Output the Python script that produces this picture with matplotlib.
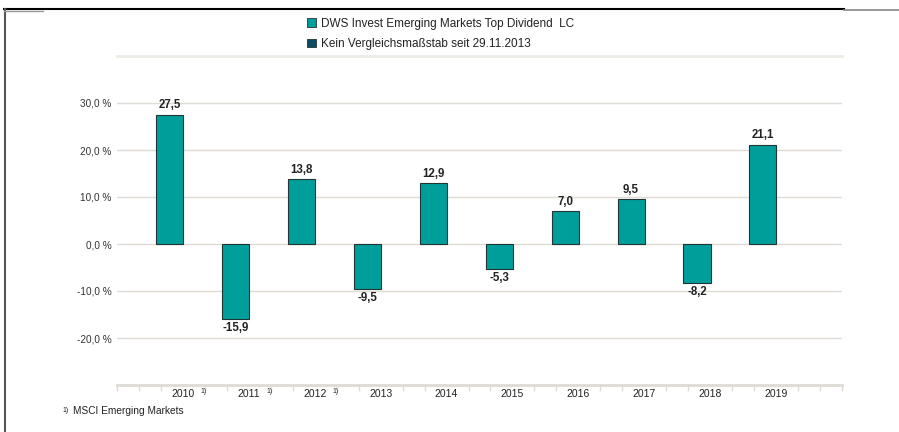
import matplotlib
matplotlib.use("Agg")
import matplotlib.pyplot as plt
from matplotlib.patches import Patch
from matplotlib.lines import Line2D
import numpy as np

plt.rcParams['font.family'] = ['Liberation Sans', 'DejaVu Sans']

years = ["2010", "2011", "2012", "2013", "2014", "2015", "2016", "2017", "2018", "2019"]
footnotes = ["1)", "1)", "1)", "", "", "", "", "", "", ""]
fund_values = [27.5, -15.9, 13.8, -9.5, 12.9, -5.3, 7.0, 9.5, -8.2, 21.1]
y_ticks = [-20, -10, 0, 10, 20, 30]
legend_labels = ["DWS Invest Emerging Markets Top Dividend  LC",
                 "Kein Vergleichsmaßstab seit 29.11.2013"]
footnote_text = "MSCI Emerging Markets"

fund_color = "#009e9b"
bench_color = "#0d4a66"
grid_color = "#dedbd4"
text_color = "#222222"

fig = plt.figure(figsize=(8.99, 4.32), dpi=100)
ax = fig.add_axes([117/899, 1 - 385/432, (842 - 117)/899, (385 - 56)/432])

x = np.arange(len(years))
bar_w = 0.41
ax.bar(x - 0.2, fund_values, width=bar_w, color=fund_color,
       edgecolor="#1f3433", linewidth=0.8, zorder=3)

for xi, v in zip(x, fund_values):
    lab = f"{v:.1f}".replace(".", ",")
    if v >= 0:
        ax.annotate(lab, (xi - 0.2, v), xytext=(0, 2.5), textcoords="offset points",
                    ha="center", va="bottom", fontsize=8.3, fontweight="bold", color=text_color)
    else:
        ax.annotate(lab, (xi - 0.2, v), xytext=(0, -2.5), textcoords="offset points",
                    ha="center", va="top", fontsize=8.3, fontweight="bold", color=text_color)

ax.set_xlim(-1, 10)
ax.set_ylim(-30, 40)

# gridlines
for t in y_ticks:
    ax.axhline(t, color=grid_color, linewidth=1.0, zorder=1)

ax.set_yticks(y_ticks)
ax.set_yticklabels([f"{t:.1f}".replace(".", ",") + " %" for t in y_ticks],
                   fontsize=7.2, color="#333333")
ax.tick_params(axis="y", length=0, pad=4)

# x ticks: minor marks around each slot
tick_pos = [-1, 10]
for k in range(-1, 11):
    for d in (-1/3, 1/3):
        p = k + d
        if -1 <= p <= 10:
            tick_pos.append(p)
ax.set_xticks(sorted(tick_pos))
ax.set_xticklabels([])
ax.tick_params(axis="x", length=4, width=1.0, color=grid_color, direction="out")

for xi, yr, fn in zip(x, years, footnotes):
    ax.annotate(yr, (xi, 0), xycoords=("data", "axes fraction"),
                xytext=(0, -3), textcoords="offset points",
                ha="center", va="top", fontsize=7.5, color=text_color)
    if fn:
        ax.annotate(fn, (xi, 0), xycoords=("data", "axes fraction"),
                    xytext=(13, -2), textcoords="offset points",
                    ha="left", va="top", fontsize=5, color=text_color)

for s in ("left", "right"):
    ax.spines[s].set_visible(False)
ax.spines["bottom"].set_color(grid_color)
ax.spines["bottom"].set_linewidth(2.0)
ax.spines["top"].set_color("#eeebe6")
ax.spines["top"].set_linewidth(2.0)

# legend
handles = [Patch(facecolor=fund_color, edgecolor="#1f3433", linewidth=0.6),
           Patch(facecolor=bench_color, edgecolor="#1f3433", linewidth=0.6)]
fig.legend(handles, legend_labels, loc="upper left",
           bbox_to_anchor=(302/899, 1 - 13/432), frameon=False,
           fontsize=8.5, handlelength=0.75, handleheight=0.75, handletextpad=0.45,
           labelspacing=0.7, borderaxespad=0, labelcolor=text_color)

# footnote
fig.text(62/899, 1 - 410/432, "1)", fontsize=5, color=text_color, va="center")
fig.text(73/899, 1 - 411/432, footnote_text, fontsize=7.3, color=text_color, va="center")

# page frame
fig.add_artist(Line2D([4/899, 844/899], [1 - 9/432, 1 - 9/432], color="black", linewidth=1.5))
fig.add_artist(Line2D([844/899, 1], [1 - 10/432, 1 - 10/432], color="#888888", linewidth=1.2))
fig.add_artist(Line2D([4.5/899, 4.5/899], [0, 1 - 9/432], color="#555555", linewidth=1.5))
fig.add_artist(Line2D([4/899, 43/899], [1 - 10.5/432, 1 - 10.5/432], color="#999999", linewidth=1.0))

fig.savefig("out.png", dpi=100)
